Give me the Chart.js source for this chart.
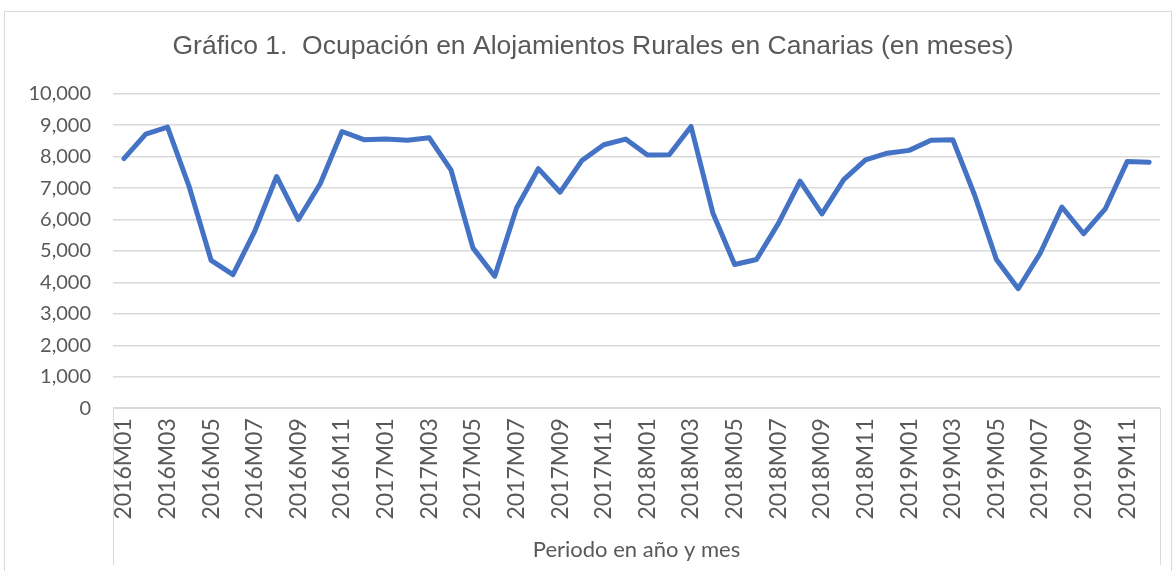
<!DOCTYPE html>
<html>
<head>
<meta charset="utf-8">
<script src="https://cdn.jsdelivr.net/npm/chart.js@4"></script>
<style>
  html, body { margin: 0; padding: 0; background: #fff; }
  body { width: 1175px; height: 571px; position: relative; overflow: hidden; }
  #frame {
    position: absolute; left: 4px; top: 11px; width: 1166px; height: 600px;
    border: 1px solid #d9d9d9; pointer-events: none;
  }
  #chart { position: absolute; left: 0; top: 0; }
</style>
</head>
<body>
<canvas id="chart" width="1175" height="571"></canvas>
<div id="frame"></div>
<script>
  const categories = [
    '2016M01', '2016M02', '2016M03', '2016M04', '2016M05', '2016M06',
    '2016M07', '2016M08', '2016M09', '2016M10', '2016M11', '2016M12',
    '2017M01', '2017M02', '2017M03', '2017M04', '2017M05', '2017M06',
    '2017M07', '2017M08', '2017M09', '2017M10', '2017M11', '2017M12',
    '2018M01', '2018M02', '2018M03', '2018M04', '2018M05', '2018M06',
    '2018M07', '2018M08', '2018M09', '2018M10', '2018M11', '2018M12',
    '2019M01', '2019M02', '2019M03', '2019M04', '2019M05', '2019M06',
    '2019M07', '2019M08', '2019M09', '2019M10', '2019M11', '2019M12'
  ];

  // ocupacion mensual
  const ocupacion2016 = [7940, 8720, 8940, 7030, 4700, 4250, 5630, 7370, 6000, 7140, 8800, 8540];
  const ocupacion2017 = [8560, 8520, 8600, 7570, 5100, 4200, 6370, 7620, 6870, 7880, 8380, 8560];
  const ocupacion2018 = [8050, 8060, 8960, 6210, 4570, 4730, 5870, 7220, 6180, 7270, 7900, 8110];
  const ocupacion2019 = [8200, 8520, 8540, 6780, 4730, 3800, 4920, 6400, 5550, 6350, 7850, 7820];

  const yTicks = [0, 1000, 2000, 3000, 4000, 5000, 6000, 7000, 8000, 9000, 10000];

  const ocupacion = [...ocupacion2016, ...ocupacion2017, ...ocupacion2018, ...ocupacion2019];

  const GREY_TEXT = '#595959';
  const GRID = '#d9d9d9';

  // caja alrededor de las etiquetas del eje x
  const labelBox = {
    id: 'labelBox',
    afterDraw(chart) {
      const { ctx, chartArea } = chart;
      ctx.save();
      ctx.strokeStyle = GRID;
      ctx.lineWidth = 1;
      ctx.beginPath();
      ctx.moveTo(Math.round(chartArea.left) + 0.5, chartArea.bottom);
      ctx.lineTo(Math.round(chartArea.left) + 0.5, chart.height - 6);
      ctx.moveTo(Math.round(chartArea.right) + 0.5, chartArea.bottom);
      ctx.lineTo(Math.round(chartArea.right) + 0.5, chart.height - 6);
      ctx.stroke();
      ctx.restore();
    }
  };

  new Chart(document.getElementById('chart').getContext('2d'), {
    type: 'line',
    data: {
      labels: categories,
      datasets: [{
        label: 'Ocupación',
        data: ocupacion,
        borderColor: '#4472C4',
        borderWidth: 5,
        borderCapStyle: 'round',
        borderJoinStyle: 'round',
        pointRadius: 0,
        tension: 0,
        fill: false
      }]
    },
    options: {
      responsive: false,
      animation: false,
      layout: { padding: { top: 0, left: 26, right: 15, bottom: 8 } },
      plugins: {
        legend: { display: false },
        tooltip: { enabled: false },
        title: {
          display: true,
          text: 'Gráfico 1.  Ocupación en Alojamientos Rurales en Canarias (en meses)',
          color: GREY_TEXT,
          font: { family: 'Liberation Sans', size: 26.5, weight: 'normal' },
          padding: { top: 31, bottom: 31 }
        }
      },
      scales: {
        x: {
          offset: true,
          afterFit: axis => { axis.paddingLeft = 0; axis.paddingRight = 0; },
          grid: { display: false, drawTicks: false },
          border: { display: true, color: GRID, width: 1 },
          ticks: {
            autoSkip: false,
            maxRotation: 90,
            minRotation: 90,
            padding: 10,
            color: GREY_TEXT,
            font: { family: 'Lato', size: 23 },
            callback: (v, i) => (i % 2 === 0 ? categories[i] : '')
          },
          title: {
            display: true,
            text: 'Periodo en año y mes',
            color: GREY_TEXT,
            font: { family: 'Lato', size: 22 },
            padding: { top: 7, bottom: 0 }
          }
        },
        y: {
          min: 0,
          max: 10000,
          afterBuildTicks: axis => { axis.ticks = yTicks.map(v => ({ value: v })); },
          afterFit: axis => { axis.width = 87; },
          grid: { color: GRID, lineWidth: 1.5, drawTicks: false },
          border: { display: false },
          ticks: {
            padding: 22,
            color: GREY_TEXT,
            font: { family: 'Lato', size: 20 },
            callback: v => v.toLocaleString('en-US')
          }
        }
      }
    },
    plugins: [labelBox]
  });
</script>
</body>
</html>
